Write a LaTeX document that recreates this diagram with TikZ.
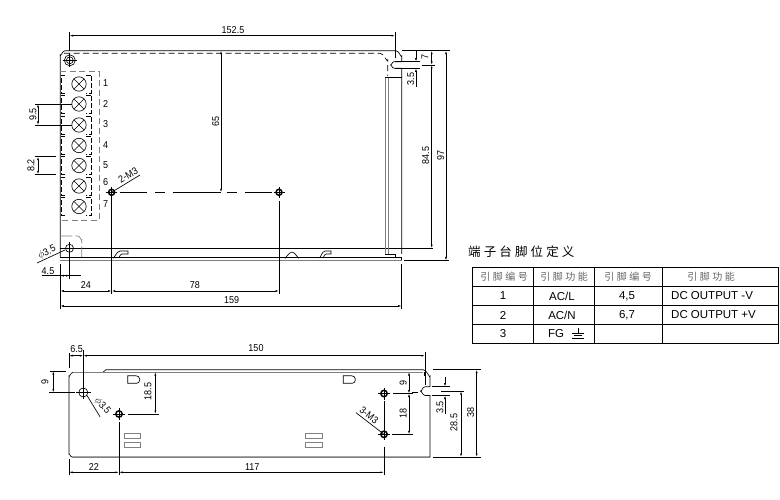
\documentclass[tikz,border=0pt]{standalone}
\usepackage{fontspec}
\setmainfont{Liberation Sans}
\newfontfamily\dimfont[FakeStretch=0.9]{Liberation Sans}
\newfontfamily\cjk[LetterSpace=25]{Noto Sans CJK SC}
\usetikzlibrary{arrows.meta}
\tikzset{
  part/.style={line width=0.65pt},
  rail/.style={line width=0.8pt,gray},
  hidden/.style={line width=0.65pt,dash pattern=on 6pt off 3.5pt},
  ext/.style={line width=0.65pt},
  dimline/.style={line width=0.65pt,{Latex[length=3.5pt,width=2pt]}-{Latex[length=3.5pt,width=2pt]}},
  dimend/.style={line width=0.65pt,-{Latex[length=3.5pt,width=2pt]}},
  dimtext/.style={inner sep=0pt,font=\dimfont\fontsize{10}{10}\selectfont},
  celltext/.style={inner sep=0pt,font=\fontsize{11.5}{12}\selectfont},
  headtext/.style={inner sep=0pt,text=black!60,font=\cjk\fontsize{10}{10}\selectfont}
}
\begin{document}
\begin{tikzpicture}[x=1pt,y=-1pt]
  \useasboundingbox[fill=white](0,0)rectangle(780,500);
  % top view
  \coordinate(TL)at(60.3,50.7);
  \coordinate(TR)at(401.7,50.7);
  \coordinate(BL)at(60.3,260.5);
  \coordinate(BR)at(401.7,260.5);
  \coordinate(H1)at(69.5,248.3);
  \coordinate(M1)at(111.6,192.3);
  \coordinate(M2)at(279,192.3);
  \coordinate(S1)at(395,65);
  \draw[part](60.3,257.5)--(60.3,55)to[out=-90,in=180](65,50.7)--(396,50.7)to[out=0,in=-90](401.7,56)--(401.7,61.7);
  \draw[part](401.7,61.7)--(394,61.7)to[out=180,in=-90](390.5,65)to[out=90,in=180](394,68.3)--(401.7,68.3)--(401.7,254);
  \draw[rail](BL)--(BR);
  \draw[part](60.3,257.5)--(401.7,257.5)--(BR);
  \draw[part](60.3,248.2)--(433,248.2);
  \draw[hidden](64,53.2)--(380,53.2)to[out=0,in=-90](387.7,60)--(387.7,76);
  \draw[rail](385,77)--(385,254);
  \draw[rail](388.5,77)--(388.5,254);
  \draw[part](385,77)--(401.7,77);
  \draw[part](385,254)--(395,254)--(395,257.5);
  % screw top left
  \draw[part](69.8,60.3)circle[radius=5.5];
  \draw[part](69.8,60.3)circle[radius=3.4];
  \fill(69.8,60.3)circle[radius=1.2];
  \draw[part](62.5,60.3)--(77,60.3);
  \draw[part](69.8,53)--(69.8,67.5);
  % terminal block
  \draw[hidden,gray](60.3,71.7)--(99.3,71.7)--(99.3,220)--(60.3,220);
  \foreach \y/\n in {84/1,104/2,125/3,145.5/4,165.5/5,186/6,206.5/7}{
    \draw[part](79,\y)circle[radius=7.2];
    \draw[part](79,\y)++(-5,-5)--++(10,10);
    \draw[part](79,\y)++(-5,5)--++(10,-10);
    \draw[part,dash pattern=on 5pt off 2pt](65,\y-9)--(61,\y-9)--(61,\y+9)--(65,\y+9);
    \draw[part,dash pattern=on 5pt off 2pt](86,\y-9)--(91.7,\y-9)--(91.7,\y+9)--(86,\y+9);
  }
  \foreach \y/\n in {83/1,104/2,124/3,145/4,165/5,182/6,204/7}{
    \node[dimtext](T\n)at(105.6,\y){\n};
  }
  % hole lower left
  \draw[part,gray,dash pattern=on 12pt off 3pt](60.3,236)--(78,236)to[out=0,in=-90](81.7,240)--(81.7,257);
  \draw[part](H1)circle[radius=4];
  \draw[part](63.5,248.3)--(75.5,248.3);
  \draw[part](69.5,242.3)--(69.5,254.3);
  % small features along the base
  \draw[part](112,257.5)to[out=-60,in=180](120,251)--(128,251)--(128,254)--(122,254)to[out=180,in=-60](118,257.5);
  \draw[part](284.5,257.5)to[out=-90,in=180](292,252)to[out=0,in=-90](299,257.5);
  \draw[part](319.5,257.5)to[out=-90,in=180](325,251)--(331,251)--(331,254)--(326,254)to[out=180,in=-90](323,257.5);
  % mounting holes top view
  \foreach \c in {M1,M2}{
    \draw[line width=1.5pt](\c)circle[radius=3];
    \draw[part](\c)++(-5.5,0)--++(11,0);
    \draw[part](\c)++(0,-5.5)--++(0,11);
  }
  \foreach \a/\b in {120/146.7,155/165,172.7/221,226.7/236.7,245/272}{
    \draw[part](\a,192.3)--(\b,192.3);
  }
  % dimensions top view
  \draw[ext](69.5,31.7)--(69.5,50.7);
  \draw[ext](395,31.7)--(395,58);
  \draw[dimline](69.5,35.7)--(395,35.7);
  \node[dimtext](D1525)at(233,30){152.5};
  \draw[dimline](221,50.7)--(221,192.3);
  \node[dimtext,rotate=90](D65)at(215.7,121.7){65};
  \draw[ext](35,104)--(72,104);
  \draw[ext](35,125)--(72,125);
  \draw[dimline](38,104)--(38,125);
  \node[dimtext,rotate=90](D95)at(33,114.5){9.5};
  \draw[ext](35,156.7)--(56,156.7);
  \draw[ext](35,174.3)--(56,174.3);
  \draw[dimline](38,156.7)--(38,174.3);
  \node[dimtext,rotate=90](D82)at(31,165.5){8.2};
  \draw[part](M1)--(140,175);
  \node[dimtext,rotate=30](M3a)at(128,175.2){2-M3};
  \draw[part](37,263)--(65,250);
  \node[dimtext,rotate=25](Pa)at(47,252.5){$\phi$3.5};
  \draw[ext](69.5,254.3)--(69.5,279);
  \draw[ext](41.7,275.7)--(81,275.7);
  \draw[dimline](60.3,275.7)--(69.5,275.7);
  \node[dimtext](D45)at(48,271){4.5};
  \draw[ext](60.3,264)--(60.3,309);
  \draw[ext](401.7,264)--(401.7,309);
  \draw[ext](111.6,198)--(111.6,294);
  \draw[ext](279,201)--(279,294);
  \draw[dimline](60.3,291)--(111.6,291);
  \draw[dimline](111.6,291)--(279,291);
  \draw[dimline](60.3,306)--(401.7,306);
  \node[dimtext](D24)at(86,285){24};
  \node[dimtext](D78)at(195,285){78};
  \node[dimtext](D159)at(231.6,300){159};
  \draw[ext](402,50.7)--(450,50.7);
  \draw[ext](404,260.5)--(449,260.5);
  \draw[ext](395,61.7)--(420,61.7);
  \draw[ext](395,68.3)--(420,68.3);
  \draw[ext](421.7,65)--(435,65);
  \draw[dimend](416,51)--(416,61.7);
  \draw[dimend](416,86.7)--(416,68.3);
  \draw[dimline](431.7,50.7)--(431.7,65);
  \draw[dimline](431.7,65)--(431.7,248.2);
  \draw[dimline](446,50.7)--(446,260.5);
  \node[dimtext,rotate=90](D7)at(425,57){7};
  \node[dimtext,rotate=90](D35)at(410.7,79){3.5};
  \node[dimtext,rotate=90](D845)at(425.7,155.7){84.5};
  \node[dimtext,rotate=90](D97)at(440.7,155){97};
  % table
  \node[inner sep=0pt,anchor=west,font=\cjk\fontsize{12.5}{12.5}\selectfont](Title)at(468,252){端子台脚位定义};
  \draw[line width=0.7pt](472.3,267.3)rectangle(778,343.3);
  \foreach \y in {286.7,305.3,324.3}{\draw[line width=0.7pt](472.3,\y)--(778,\y);}
  \foreach \x in {533.3,594.3,662.3}{\draw[line width=0.7pt](\x,267.3)--(\x,343.3);}
  \node[headtext](Ha)at(504,277){引脚编号};
  \node[headtext](Hb)at(564,277){引脚功能};
  \node[headtext](Hc)at(628,277){引脚编号};
  \node[headtext](Hd)at(711,277){引脚功能};
  \node[celltext](Ra)at(503,296){1};
  \node[celltext](Rb)at(503,315){2};
  \node[celltext](Rc)at(503,333.5){3};
  \node[celltext](La)at(562,296){AC/L};
  \node[celltext](Lb)at(562,315){AC/N};
  \node[celltext,anchor=west](Lc)at(548,334){FG};
  \node[celltext](Na)at(627,296){4,5};
  \node[celltext](Nb)at(627,315){6,7};
  \node[celltext,anchor=west](Va)at(671,296){DC OUTPUT -V};
  \node[celltext,anchor=west](Vb)at(671,315){DC OUTPUT +V};
  \draw[part](578,328)--(578,333);
  \draw[part](572,333)--(584,333);
  \draw[part](574,335.5)--(582,335.5);
  \draw[part](572,338)--(584,338);
  % side view
  \coordinate(H2)at(83.3,392.5);
  \coordinate(M4)at(119,414);
  \coordinate(M5)at(384,393.5);
  \coordinate(M6)at(384,434.3);
  \draw[part](73,372.3)to[out=180,in=-90](69,376)--(69,454)to[out=90,in=180](72,457)--(430,457)--(430,395.5)--(425,395.5)to[out=180,in=90](420.5,391.2)to[out=-90,in=180](425,386.7)--(430,386.7)--(430,376)to[out=-90,in=0](423.3,369.7)--(106,369.7)--(103,372.3);
  \draw[rail,line width=0.6pt](73,372.3)--(423,372.3);
  \draw[rail,line width=1pt](72,457)--(430,457);
  \draw[part](424.5,372)--(424.5,376);
  \foreach \x in {127.7,343.3}{
    \draw[part](\x,375.7)--(\x+8,375.7)to[out=0,in=90](\x+12,379)--(\x+12,380)to[out=-90,in=0](\x+9,383.3)--(\x,383.3)--cycle;
  }
  \foreach \x in {124.3,305.7}{
    \draw[part,gray](\x,433.3)rectangle(\x+16.2,438.3);
    \draw[part,gray](\x,442.3)rectangle(\x+16.2,447.3);
  }
  \draw[part](H2)circle[radius=4.5];
  \draw[part](76,392.5)--(90.5,392.5);
  \draw[part](83.3,350)--(83.3,399);
  \foreach \c in {M4,M5,M6}{
    \draw[line width=1.5pt](\c)circle[radius=3.2];
    \draw[part](\c)++(-6,0)--++(12,0);
    \draw[part](\c)++(0,-6)--++(0,12);
  }
  % dimensions side view
  \draw[ext](69,353)--(69,368);
  \draw[ext](425,351.7)--(425,385);
  \draw[dimline](69,355.7)--(83.3,355.7);
  \draw[dimline](83.3,355.7)--(425,355.7);
  \node[dimtext](D65b)at(76.7,349){6.5};
  \node[dimtext](D150)at(256,348.5){150};
  \draw[ext](50,371)--(66,371);
  \draw[ext](49,392.5)--(75,392.5);
  \draw[dimline](53.3,371)--(53.3,392.5);
  \node[dimtext,rotate=90](D9a)at(45,382){9};
  \draw[part](87,395.5)--(100,416.7);
  \node[dimtext,rotate=-50](Pb)at(102.5,406){$\phi$3.5};
  \draw[ext](128,414)--(159,414);
  \draw[dimline](155.3,372)--(155.3,414);
  \node[dimtext,rotate=90](D185)at(148,391.7){18.5};
  \draw[line width=0.8pt](119,422)--(119,475);
  \draw[ext](69,459)--(69,475);
  \draw[dimline](69,472.3)--(119,472.3);
  \draw[dimline](119,472.3)--(384,472.3);
  \node[dimtext](D22)at(94,466.7){22};
  \node[dimtext](D117)at(252.3,466.7){117};
  \draw[ext](393,393.5)--(413,393.5);
  \draw[ext](392,434.3)--(413,434.3);
  \draw[dimline](409,372)--(409,393.5);
  \draw[dimline](409,393.5)--(409,434.3);
  \node[dimtext,rotate=90](D9b)at(403.3,382.7){9};
  \node[dimtext,rotate=90](D18)at(403.3,413){18};
  \draw[line width=0.8pt](384,400.7)--(384,428);
  \draw[line width=0.8pt](384,446.7)--(384,475);
  \draw[part](356,412.7)--(M6);
  \node[dimtext,rotate=-38](M3b)at(369,415.5){3-M3};
  \draw[ext](432.7,369.7)--(480.7,369.7);
  \draw[line width=0.9pt](432.7,457)--(480.7,457);
  \draw[ext](431.7,386.7)--(450,386.7);
  \draw[ext](431.7,395.5)--(450,395.5);
  \draw[ext](412,392.3)--(418,392.3);
  \draw[ext](441,391.2)--(464,391.2);
  \draw[dimend](445,376.7)--(445,386.7);
  \draw[dimend](445,414)--(445,395.5);
  \draw[dimline](461,391.2)--(461,457);
  \draw[dimline](476.7,369.7)--(476.7,457);
  \node[dimtext,rotate=90](D35b)at(440,407.7){3.5};
  \node[dimtext,rotate=90](D285)at(454,422.7){28.5};
  \node[dimtext,rotate=90](D38)at(470.7,412){38};
\end{tikzpicture}
\end{document}
